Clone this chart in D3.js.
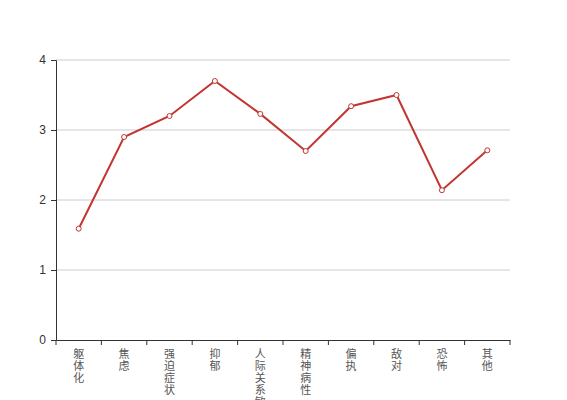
<!DOCTYPE html>
<html>
<head>
<meta charset="utf-8">
<script src="https://cdn.jsdelivr.net/npm/d3@7"></script>
<style>
body { margin: 0; background: #fff; }
svg { display: block; font-family: "Noto Sans CJK SC", "DejaVu Sans", sans-serif; }
</style>
</head>
<body>
<svg id="chart" width="567" height="400"></svg>
<script>
let categories = ['躯体化', '焦虑', '强迫症状', '抑郁', '人际关系敏感', '精神病性', '偏执', '敌对', '恐怖', '其他']
let values = [1.59, 2.9, 3.2, 3.7, 3.23, 2.7, 3.34, 3.5, 2.14, 2.71]
let yTicks = [0, 1, 2, 3, 4]

let svg = d3.select('#chart')
let margin = { top: 60, right: 57, bottom: 60, left: 56 }
let width = 567 - margin.left - margin.right
let height = 400 - margin.top - margin.bottom

let g = svg.append('g').attr('transform', 'translate(' + [margin.left, margin.top] + ')')

let x = d3.scaleBand().domain(categories).range([0, width])
let y = d3.scaleLinear().domain([0, 4]).range([height, 0])

// grid
g.append('g').selectAll('line').data(yTicks.slice(1)).join('line')
	.attr('x1', 0).attr('x2', width)
	.attr('y1', d => y(d)).attr('y2', d => y(d))
	.attr('stroke', '#ccc').attr('stroke-width', 1)

let yAxis = g.append('g').call(d3.axisLeft(y).tickValues(yTicks).tickFormat(d3.format('d')).tickSize(5).tickPadding(5))
yAxis.select('.domain').attr('stroke', '#333')
yAxis.selectAll('.tick line').attr('stroke', '#333')
yAxis.selectAll('text').attr('fill', '#333').style('font-size', '12px')

let xAxis = g.append('g').attr('transform', 'translate(0,' + height + ')')
	.call(d3.axisBottom(x).tickSize(0).tickFormat(''))
xAxis.select('.domain').attr('stroke', '#333')

// ticks at band boundaries
let bounds = categories.map(c => x(c)).concat([width])
xAxis.selectAll('line.bound').data(bounds).join('line')
	.attr('class', 'bound')
	.attr('x1', d => d).attr('x2', d => d)
	.attr('y1', 0).attr('y2', 5)
	.attr('stroke', '#333')

// vertical stacked labels, one character per line
let labels = g.append('g').selectAll('text.lab').data(categories).join('text')
	.attr('class', 'lab')
	.attr('fill', '#555')
	.style('font-size', '11px')
	.attr('text-anchor', 'middle')
labels.selectAll('tspan').data(d => Array.from(d).map(ch => ({ ch: ch, cat: d }))).join('tspan')
	.attr('x', d => x(d.cat) + x.bandwidth() / 2)
	.attr('y', (d, i) => height + 18 + i * 12)
	.text(d => d.ch)

let line = d3.line()
	.x((d, i) => x(categories[i]) + x.bandwidth() / 2)
	.y(d => y(d))

g.append('path').datum(values)
	.attr('fill', 'none')
	.attr('stroke', '#c23531')
	.attr('stroke-width', 2)
	.attr('d', line)

g.selectAll('circle').data(values).join('circle')
	.attr('cx', (d, i) => x(categories[i]) + x.bandwidth() / 2)
	.attr('cy', d => y(d))
	.attr('r', 2.5)
	.attr('fill', '#fff')
	.attr('stroke', '#c23531')
	.attr('stroke-width', 1)
</script>
</body>
</html>
